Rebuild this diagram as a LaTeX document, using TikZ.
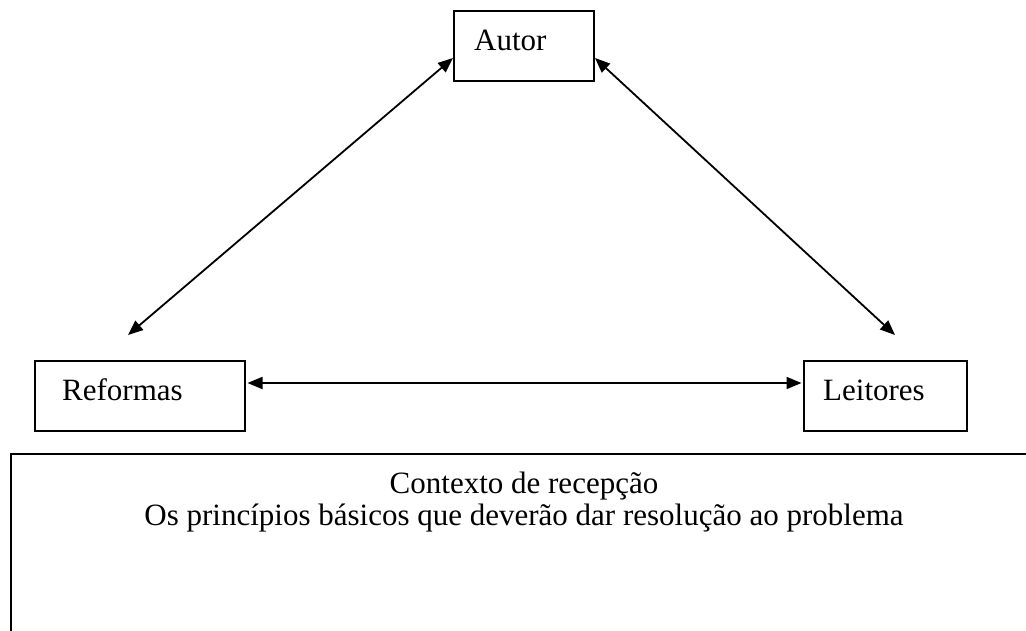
\documentclass[tikz,border=0pt]{standalone}
\usepackage{fontspec}
\setmainfont{Liberation Serif}
\usetikzlibrary{arrows.meta,calc}
\tikzset{
  box/.style={draw=black, line width=2pt, fill=white, inner sep=0pt, anchor=north west},
  lbl/.style={inner sep=0pt, anchor=base west, font=\fontsize{31}{31}\selectfont},
  ctxtext/.style={inner sep=0pt, anchor=base, font=\fontsize{31}{31}\selectfont},
  link/.style={line width=1.8pt, {Triangle[length=15pt,width=12pt]}-{Triangle[length=15pt,width=12pt]}}
}
\begin{document}
\begin{tikzpicture}[x=1pt,y=-1pt]
\useasboundingbox (0,0) rectangle (1026,630);
\clip (0,0) rectangle (1026,630);
% boxes
\node[box, minimum width=140pt, minimum height=70pt] (autor) at (453,10) {};
\node[lbl] (autorL) at (474,50) {Autor};
\node[box, minimum width=210pt, minimum height=70pt] (reformas) at (34,360) {};
\node[lbl] (reformasL) at (62,400) {Reformas};
\node[box, minimum width=163pt, minimum height=70pt] (leitores) at (803,360) {};
\node[lbl] (leitoresL) at (823,400) {Leitores};
% context box
\node[draw=black, line width=1.5pt, inner sep=0pt, anchor=north west, minimum width=1040pt, minimum height=200pt] (ctx) at (10,453) {};
\node[ctxtext] (ctx1) at (524,493) {Contexto de recepção};
\node[ctxtext] (ctx2) at (524,525) {Os princípios básicos que deverão dar resolução ao problema};
% connectors
\coordinate (tipR) at (128,335);
\coordinate (tipL) at (895,335);
\draw[link] ($(autor.north west)+(0,48)$) -- (tipR);
\draw[link] ($(autor.north east)+(0,48)$) -- (tipL);
\draw[link] ($(reformas.north east)+(1.5,23)$) -- ($(leitores.north west)+(-1.5,23)$);
\end{tikzpicture}
\end{document}
